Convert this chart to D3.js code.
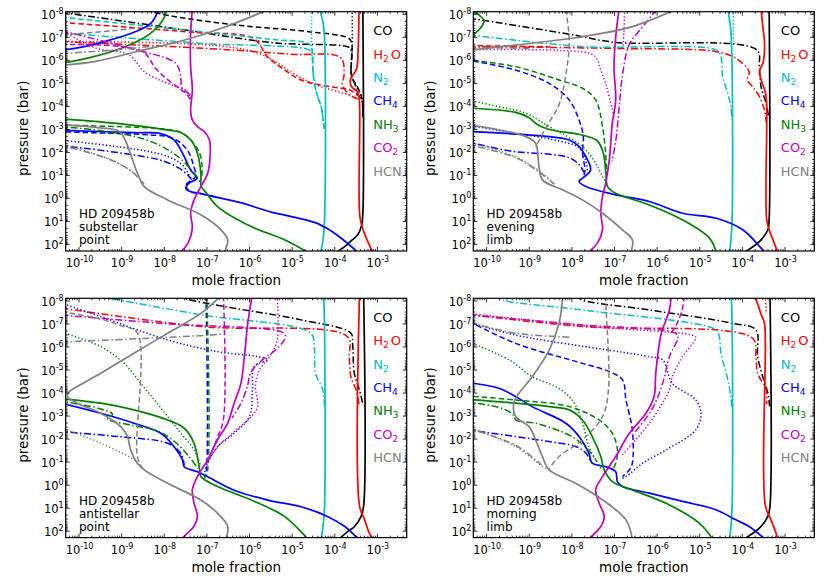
<!DOCTYPE html>
<html>
<head>
<meta charset="utf-8">
<script src="https://cdn.jsdelivr.net/npm/d3@7"></script>
<style>
body { margin: 0; background: #fff; }
text { font-family: "DejaVu Sans", sans-serif; }
</style>
</head>
<body>
<svg id="chart" width="830" height="586"></svg>
<script>
// species, legend labels, colours
var species = ["CO", "H2O", "N2", "CH4", "NH3", "CO2", "HCN"];
var legendLabels = [["CO", ""], ["H", "2", "O"], ["N", "2"], ["CH", "4"], ["NH", "3"], ["CO", "2"], ["HCN", ""]];
var colors = ["#000000", "#ff0000", "#00bfbf", "#0000ff", "#008000", "#bf00bf", "#808080"];

// tick exponents
var xTickExp = [-10, -9, -8, -7, -6, -5, -4, -3];
var yTickExp = [-8, -7, -6, -5, -4, -3, -2, -1, 0, 1, 2];

var panelTitles = [
	["HD 209458b", "substellar", "point"],
	["HD 209458b", "evening", "limb"],
	["HD 209458b", "antistellar", "point"],
	["HD 209458b", "morning", "limb"]
];

// profiles: [line style, [[log10 mole fraction, log10 pressure(bar)], ...]]
// --- substellar point
var subCO = [
	["dashed", [[-8.4,-8.15],[-7.8,-7.9],[-6.2,-7.5],[-4.55,-7.22],[-3.7,-6.98],[-3.6,-6.8],[-3.6,-5.4],[-3.55,-5.1],[-3.45,-4.8],[-3.35,-4.3],[-3.33,-3.5]]],
	["dashdot", [[-10.4,-8.07],[-7.5,-7.3],[-5.4,-6.74],[-3.65,-6.55],[-3.6,-6.4],[-3.6,-5.3],[-3.52,-5.0],[-3.48,-4.6],[-3.35,-4.2],[-3.33,-3.5]]],
	["dotted", [[-3.58,-8.2],[-3.58,-6.5],[-3.6,-5.3],[-3.5,-4.9],[-3.35,-4.3],[-3.33,-3.5]]],
	["solid", [[-3.33,-8.2],[-3.33,0.7],[-3.36,1.2],[-3.45,1.6],[-3.6,1.85],[-3.75,2.1],[-3.95,2.35]]]
];
var subH2O = [
	["dashed", [[-10.4,-7.63],[-7.3,-7.2],[-5.9,-6.94],[-5.57,-6.15],[-5.17,-5.57],[-4.78,-5.13],[-4.0,-4.81],[-3.64,-4.7],[-3.42,-4.4]]],
	["dashdot", [[-10.4,-6.8],[-7.0,-6.5],[-5.0,-6.25],[-3.85,-6.1],[-3.77,-5.36],[-3.81,-4.93],[-3.69,-4.57],[-3.45,-4.3]]],
	["dotted", [[-10.4,-6.81],[-6.63,-6.6],[-5.69,-6.23],[-4.91,-5.36],[-4.44,-4.93],[-3.65,-4.47],[-3.45,-4.3]]],
	["solid", [[-3.42,-8.2],[-3.44,-6.5],[-3.48,-5.6],[-3.62,-5.15],[-3.6,-4.85],[-3.45,-4.6],[-3.41,-4.2],[-3.4,0.8],[-3.32,1.4],[-3.2,1.95],[-3.1,2.35]]]
];
var subN2 = [
	["dashed", [[-10.4,-7.86],[-7.5,-7.3],[-5.5,-6.9],[-4.6,-6.7],[-4.52,-6.45],[-4.5,-5.5],[-4.42,-4.6],[-4.3,-3.9],[-4.24,-3.0]]],
	["dashdot", [[-10.4,-7.17],[-7.1,-6.72],[-4.6,-6.45],[-4.52,-6.3],[-4.5,-5.5],[-4.42,-4.6],[-4.3,-3.9],[-4.24,-3.0]]],
	["dotted", [[-4.53,-8.2],[-4.53,-6.4],[-4.5,-5.5]]],
	["solid", [[-4.35,-8.2],[-4.27,-7.7],[-4.23,-7.0],[-4.23,1.0],[-4.27,1.9],[-4.32,2.35]]]
];
var subCH4 = [
	["dashed", [[-10.5,-2.88],[-8.5,-2.76],[-7.9,-2.66],[-7.62,-2.42],[-7.42,-2.0],[-7.3,-1.4],[-7.25,-0.95],[-7.4,-0.72],[-7.5,-0.5],[-7.42,-0.3],[-7.15,-0.2],[-6.8,-0.05]]],
	["dotted", [[-10.5,-2.53],[-8.04,-1.89],[-7.57,-1.45],[-7.41,-1.02],[-7.35,-0.8]]],
	["dashdot", [[-10.5,-2.3],[-8.12,-1.67],[-7.65,-1.31],[-7.41,-0.95],[-7.35,-0.8]]],
	["solid", [[-8.12,-8.2],[-8.3,-7.6],[-8.7,-7.2],[-9.2,-6.9],[-9.8,-6.6],[-10.5,-6.4]]],
	["solid", [[-10.5,-2.95],[-8.7,-2.84],[-8.07,-2.8],[-7.76,-2.53],[-7.56,-1.95],[-7.37,-1.22],[-7.22,-0.85],[-7.38,-0.68],[-7.47,-0.5],[-7.4,-0.3],[-7.15,-0.2],[-6.8,-0.05],[-6.2,0.2],[-5.5,0.6],[-4.9,0.85],[-4.4,1.1],[-4.1,1.4],[-3.8,1.8],[-3.45,2.35]]]
];
var subNH3 = [
	["dashed", [[-10.5,-3.17],[-8.0,-3.0],[-7.6,-2.85],[-7.33,-2.45],[-7.15,-1.9],[-7.1,-1.3],[-7.12,-0.8]]],
	["dashdot", [[-10.5,-3.12],[-9.37,-2.9],[-8.43,-2.54],[-7.73,-1.89],[-7.26,-1.02],[-7.15,-0.7]]],
	["solid", [[-7.92,-8.2],[-8.04,-7.68],[-8.35,-7.1],[-8.98,-6.52],[-9.76,-6.09],[-10.5,-5.82]]],
	["solid", [[-10.5,-3.45],[-9.0,-3.22],[-7.9,-2.95],[-7.6,-2.85],[-7.37,-2.53],[-7.21,-1.95],[-7.13,-1.08],[-7.12,-0.5],[-7.0,-0.22],[-6.74,0.37],[-5.96,1.23],[-5.17,1.81],[-4.63,2.35]]]
];
var subCO2 = [
	["dashed", [[-10.4,-6.67],[-8.51,-6.38],[-8.2,-5.65],[-7.96,-5.22],[-7.65,-4.78],[-7.45,-4.49],[-7.36,-4.2]]],
	["dashdot", [[-10.4,-7.27],[-8.82,-6.52],[-7.73,-5.87],[-7.61,-5.36],[-7.57,-4.78],[-7.4,-4.5],[-7.36,-4.2]]],
	["dotted", [[-10.4,-7.3],[-9.6,-6.52],[-8.82,-6.23],[-8.47,-5.51],[-8.12,-5.15],[-7.73,-4.86],[-7.5,-4.71],[-7.37,-4.4]]],
	["solid", [[-7.33,-8.2],[-7.37,-7.16],[-7.37,-5.7],[-7.33,-4.69],[-7.37,-3.82],[-7.33,-3.39],[-7.21,-3.1],[-7.05,-2.89],[-6.93,-2.53],[-6.91,-1.95],[-6.97,-1.08],[-7.13,-0.5],[-7.29,0.08],[-7.37,0.66],[-7.33,1.24],[-7.37,1.67],[-7.48,2.1],[-7.62,2.35]]]
];
var subHCN = [
	["dashed", [[-10.4,-7.09],[-9.2,-7.27],[-8.6,-7.4]]],
	["dashdot", [[-10.4,-6.28],[-9.4,-6.4],[-8.5,-6.55],[-8.2,-6.62]]],
	["dotted", [[-10.5,-2.42],[-9.24,-1.66],[-8.7,-1.08],[-8.46,-0.6]]],
	["dashdot", [[-10.5,-2.32],[-9.3,-1.7],[-8.75,-1.15],[-8.46,-0.6]]],
	["solid", [[-5.53,-8.2],[-6.63,-7.39],[-7.49,-6.88],[-8.59,-6.38],[-9.6,-5.94],[-10.5,-5.75]]],
	["solid", [[-10.5,-3.2],[-9.5,-3.05],[-9.05,-2.9],[-8.9,-2.5],[-8.75,-1.75],[-8.6,-1.0],[-8.46,-0.5],[-7.91,0.08],[-7.13,0.73],[-6.66,1.38],[-6.5,1.81],[-6.58,2.35]]]
];

// --- evening limb
var eveCO = [
	["dashdot", [[-10.4,-7.82],[-8.05,-7.12],[-7.0,-6.77],[-3.65,-6.44],[-3.59,-5.71],[-3.55,-4.84],[-3.43,-4.1],[-3.37,-3.5]]],
	["solid", [[-3.36,-8.2],[-3.36,0.9],[-3.39,1.38],[-3.59,1.89],[-3.94,2.35]]]
];
var eveH2O = [
	["dashed", [[-10.4,-6.62],[-9.5,-6.6],[-8.5,-6.57]]],
	["dashdot", [[-10.4,-6.58],[-6.96,-6.5],[-4.6,-6.36],[-4.14,-6.07],[-3.83,-5.49],[-3.87,-5.13],[-3.75,-4.84],[-3.59,-4.41],[-3.47,-3.83],[-3.43,-3.3]]],
	["solid", [[-3.55,-8.2],[-3.5,-7.3],[-3.47,-6.81],[-3.5,-5.9],[-3.59,-5.5],[-3.55,-5.15],[-3.45,-4.6],[-3.42,-4.2],[-3.42,0.9],[-3.36,1.38],[-3.24,1.96],[-3.16,2.35]]]
];
var eveN2 = [
	["dashdot", [[-10.4,-7.09],[-7.74,-6.58],[-4.6,-6.43],[-4.49,-6.14],[-4.45,-5.27],[-4.33,-4.55],[-4.26,-3.97],[-4.23,-3.3]]],
	["dotted", [[-4.2,-8.2],[-4.2,-6.8]]],
	["solid", [[-4.33,-8.2],[-4.26,-7.3],[-4.23,-5.7],[-4.23,1.0],[-4.26,1.9],[-4.29,2.35]]]
];
var eveCH4 = [
	["dashed", [[-10.5,-6.02],[-9.31,-5.56],[-8.52,-4.98],[-8.05,-4.26],[-7.82,-3.39],[-7.72,-2.67],[-7.74,-1.95],[-7.68,-1.22],[-7.72,-0.9]]],
	["dotted", [[-10.5,-3.19],[-9.38,-2.83],[-8.44,-2.54],[-7.82,-2.18],[-7.66,-1.6],[-7.62,-1.1]]],
	["dashdot", [[-10.5,-2.47],[-9.38,-2.03],[-8.44,-1.89],[-8.05,-1.75],[-7.82,-1.46],[-7.7,-1.1]]],
	["solid", [[-10.5,-2.9],[-8.52,-2.67],[-8.05,-2.52],[-7.82,-2.24],[-7.66,-1.8],[-7.55,-1.22],[-7.74,-0.86],[-7.82,-0.72],[-7.66,-0.5],[-6.96,-0.14],[-6.17,0.15],[-5.39,0.66],[-4.6,0.88],[-3.98,1.38],[-3.51,2.25],[-3.45,2.35]]]
];
var eveNH3 = [
	["dashed", [[-10.5,-6.02],[-9.31,-5.71],[-8.29,-5.13],[-7.74,-4.77],[-7.43,-4.26],[-7.27,-3.1],[-7.19,-1.8],[-7.17,-1.0]]],
	["dotted", [[-10.5,-4.28],[-9.7,-3.97],[-9.07,-3.68],[-8.52,-3.1],[-7.74,-2.24],[-7.43,-1.51],[-7.27,-0.94],[-7.17,-0.6]]],
	["solid", [[-10.5,-8.3],[-10.2,-8.0],[-10.05,-7.7],[-10.2,-7.25],[-10.5,-6.9]]],
	["solid", [[-10.5,-3.92],[-9.31,-3.72],[-9.0,-3.5],[-8.8,-3.2],[-8.52,-2.98],[-7.8,-2.76],[-7.4,-2.5],[-7.25,-1.95],[-7.19,-1.08],[-7.15,-0.5],[-6.96,-0.21],[-6.17,0.3],[-5.39,0.95],[-4.76,1.74],[-4.6,2.35]]]
];
var eveCO2 = [
	["dotted", [[-10.4,-6.45],[-7.6,-6.3],[-7.42,-6.1],[-7.3,-5.5],[-7.2,-5.0],[-7.1,-4.3],[-7.0,-3.5]]],
	["dotted", [[-6.75,-8.2],[-6.78,-6.8],[-6.8,-6.5]]],
	["dashdot", [[-6.0,-8.2],[-6.3,-7.5],[-6.64,-6.67],[-6.8,-5.36],[-6.88,-3.92],[-6.96,-2.47],[-7.05,-1.6]]],
	["solid", [[-6.88,-8.2],[-6.95,-7.2],[-7.0,-5.71],[-6.96,-4.26],[-7.04,-3.25],[-7.11,-1.66],[-7.2,-0.6],[-7.27,-0.07],[-7.31,0.66],[-7.27,1.38],[-7.39,1.96],[-7.6,2.35]]]
];
var eveHCN = [
	["dashed", [[-8.13,-8.2],[-8.05,-6.81],[-8.13,-5.36],[-8.29,-4.06],[-8.6,-3.05],[-8.84,-2.2]]],
	["dashdot", [[-10.4,-6.55],[-9.0,-6.5]]],
	["dotted", [[-10.5,-2.45],[-9.31,-1.8],[-8.68,-1.08],[-8.4,-0.6]]],
	["dashdot", [[-10.5,-2.35],[-9.3,-1.75],[-8.7,-1.05],[-8.4,-0.6]]],
	["solid", [[-5.55,-8.2],[-6.57,-7.45],[-7.74,-7.01],[-9.31,-6.65],[-10.5,-6.4]]],
	["solid", [[-10.5,-3.22],[-9.07,-2.67],[-8.84,-2.38],[-8.76,-1.37],[-8.68,-0.79],[-8.21,-0.36],[-7.74,0.08],[-7.27,0.66],[-6.8,1.38],[-6.57,1.81],[-6.6,2.35]]]
];

// --- antistellar point
var antCO = [
	["dashdot", [[-7.7,-8.2],[-7.44,-8.05],[-6.58,-7.74],[-4.78,-7.16],[-3.61,-6.58],[-3.57,-6.14],[-3.53,-4.84],[-3.41,-4.12],[-3.33,-3.5]]],
	["solid", [[-3.31,-8.2],[-3.31,0.9],[-3.37,1.38],[-3.53,1.83],[-3.68,2.03],[-3.88,2.35]]]
];
var antH2O = [
	["dashdot", [[-10.4,-7.67],[-7.13,-6.87],[-3.69,-6.43],[-3.65,-5.56],[-3.61,-4.69],[-3.49,-4.12],[-3.42,-3.5]]],
	["solid", [[-3.41,-8.2],[-3.41,0.9],[-3.29,1.52],[-3.18,2.1],[-3.1,2.35]]]
];
var antN2 = [
	["dashdot", [[-9.5,-8.15],[-9.09,-8.03],[-7.13,-7.38],[-4.55,-6.58],[-4.47,-6.0],[-4.44,-4.84],[-4.27,-4.12],[-4.23,-3.4]]],
	["solid", [[-4.25,-8.2],[-4.23,-7.0],[-4.23,1.0],[-4.27,1.9],[-4.31,2.35]]]
];
var antCH4 = [
	["dashed", [[-7.01,-8.2],[-7.01,-0.5],[-7.05,-0.35]]],
	["dashdot", [[-10.5,-2.32],[-9.09,-2.09],[-7.91,-1.8],[-7.6,-1.36],[-7.52,-0.85]]],
	["dotted", [[-10.5,-7.95],[-9.48,-7.3],[-7.91,-6.29],[-6.74,-5.78],[-5.8,-5.56],[-5.56,-5.42],[-5.88,-5.13],[-5.92,-4.12],[-5.99,-2.96],[-6.35,-2.23],[-6.74,-1.65],[-6.97,-0.93],[-7.05,-0.5]]],
	["solid", [[-10.5,-3.58],[-9.48,-3.1],[-8.7,-2.67],[-8.07,-2.23],[-7.76,-1.65],[-7.56,-1.07],[-7.52,-0.78],[-7.21,-0.56],[-6.97,-0.34],[-6.35,0.24],[-5.56,0.67],[-4.78,0.96],[-4.16,1.38],[-3.76,1.81],[-3.49,2.25],[-3.42,2.35]]]
];
var antNH3 = [
	["dashed", [[-6.99,-8.2],[-6.99,-0.43],[-7.05,-0.3]]],
	["dotted", [[-10.4,-6.62],[-9.48,-6.0],[-8.93,-5.27],[-8.54,-4.4],[-8.22,-3.68],[-7.91,-2.96],[-7.6,-2.23],[-7.29,-1.51],[-7.13,-0.79]]],
	["dashdot", [[-10.5,-3.65],[-9.5,-3.3],[-9.2,-3.05],[-9.32,-2.85],[-8.8,-2.6],[-8.1,-2.3],[-7.7,-1.8],[-7.4,-1.2],[-7.2,-0.7]]],
	["solid", [[-10.5,-3.75],[-9.48,-3.54],[-8.7,-3.25],[-7.91,-2.81],[-7.52,-2.45],[-7.29,-1.8],[-7.17,-0.78],[-7.13,-0.35],[-6.74,0.08],[-5.96,0.66],[-5.17,1.38],[-4.63,2.35]]]
];
var antCO2 = [
	["dashed", [[-6.6,-8.2],[-6.6,-2.85],[-6.75,-2.0],[-6.95,-1.1]]],
	["dashdot", [[-10.4,-7.37],[-8.0,-7.0],[-5.2,-6.6],[-5.15,-6.4],[-5.35,-5.9],[-5.7,-5.4],[-5.95,-4.9],[-6.05,-4.2],[-6.2,-3.5],[-6.4,-2.9]]],
	["dotted", [[-5.34,-8.2],[-5.34,-6.29],[-5.5,-5.6],[-5.75,-5.0],[-5.85,-4.3],[-5.8,-3.4],[-5.95,-2.95],[-6.35,-2.3],[-6.75,-1.6],[-7.0,-0.9]]],
	["solid", [[-5.93,-8.2],[-6.03,-7.01],[-6.11,-5.56],[-6.19,-4.4],[-6.35,-3.54],[-6.5,-2.67],[-6.74,-1.95],[-6.97,-1.08],[-7.21,-0.35],[-7.33,0.22],[-7.29,0.8],[-7.21,1.38],[-7.29,1.81],[-7.44,2.1],[-7.58,2.35]]]
];
var antHCN = [
	["dashed", [[-10.4,-7.52],[-9.5,-7.2],[-9.0,-6.9],[-8.62,-6.6],[-8.62,-1.22],[-8.5,-0.7]]],
	["dashdot", [[-10.4,-6.2],[-8.5,-6.35],[-6.9,-6.5],[-6.6,-6.55]]],
	["dotted", [[-10.5,-2.55],[-9.48,-1.8],[-8.7,-1.08],[-8.46,-0.64]]],
	["solid", [[-6.66,-8.2],[-7.13,-7.44],[-7.91,-6.58],[-8.7,-5.71],[-9.48,-4.84],[-10.03,-4.26],[-10.22,-4.04],[-10.26,-3.83],[-10.03,-3.54],[-9.48,-3.1],[-9.01,-2.52],[-8.85,-2.09],[-8.78,-1.51],[-8.62,-0.93],[-8.46,-0.64],[-7.91,-0.06],[-7.13,0.67],[-6.74,1.24],[-6.5,1.82],[-6.54,2.35]]]
];

// --- morning limb
var mornCO = [
	["dashdot", [[-7.9,-8.2],[-7.74,-8.02],[-6.17,-7.59],[-4.22,-7.01],[-3.67,-6.72],[-3.63,-5.56],[-3.51,-4.69],[-3.39,-3.97],[-3.35,-3.4]]],
	["solid", [[-3.34,-8.2],[-3.34,0.9],[-3.39,1.38],[-3.59,1.89],[-3.94,2.35]]]
];
var mornH2O = [
	["dashdot", [[-10.4,-7.38],[-7.74,-6.87],[-3.75,-6.36],[-3.67,-5.56],[-3.63,-4.84],[-3.43,-4.12],[-3.42,-3.5]]],
	["dotted", [[-3.45,-8.2],[-3.43,-7.5]]],
	["solid", [[-3.7,-8.2],[-3.62,-7.8],[-3.55,-7.4],[-3.47,-7.01],[-3.45,-6.0],[-3.45,0.9],[-3.32,1.52],[-3.2,2.1],[-3.16,2.35]]]
];
var mornN2 = [
	["dashdot", [[-9.8,-8.2],[-9.62,-8.02],[-7.74,-7.59],[-4.6,-6.72],[-4.53,-6.43],[-4.49,-5.71],[-4.33,-4.55],[-4.26,-3.83],[-4.23,-3.3]]],
	["solid", [[-4.25,-8.2],[-4.23,-7.0],[-4.23,1.0],[-4.26,1.9],[-4.29,2.35]]]
];
var mornCH4 = [
	["dashed", [[-10.4,-7.1],[-9.31,-6.14],[-7.74,-5.27],[-7.11,-4.91],[-6.8,-4.55],[-6.72,-3.68],[-6.57,-2.38],[-6.57,-0.93],[-6.64,-0.64],[-6.8,-0.35]]],
	["dotted", [[-10.4,-7.05],[-9.31,-6.5],[-6.17,-5.56],[-5.86,-5.42],[-5.63,-4.4],[-5.08,-3.68],[-4.96,-3.1],[-5.08,-2.38],[-5.78,-1.51],[-6.33,-0.93],[-6.72,-0.35],[-6.85,-0.25]]],
	["dashdot", [[-10.5,-2.4],[-9.31,-2.09],[-8.52,-1.87],[-7.9,-1.66],[-7.66,-1.37],[-7.55,-1.0]]],
	["solid", [[-10.5,-4.45],[-9.7,-4.19],[-9.31,-3.83],[-8.92,-3.39],[-8.13,-2.67],[-7.82,-2.09],[-7.59,-1.37],[-7.51,-0.93],[-7.19,-0.78],[-6.96,-0.56],[-6.92,-0.13],[-6.8,0.08],[-6.17,0.37],[-5.39,0.73],[-4.61,1.09],[-4.14,1.53],[-3.83,1.82],[-3.47,2.35]]]
];
var mornNH3 = [
	["dashed", [[-10.5,-3.86],[-9.31,-3.68],[-8.05,-3.39],[-7.35,-2.81],[-7.04,-2.23],[-6.92,-1.51],[-6.96,-0.93],[-7.05,-0.6]]],
	["dotted", [[-10.4,-6.2],[-9.46,-5.42],[-8.92,-4.69],[-8.37,-4.26],[-7.98,-3.68],[-7.74,-2.67],[-7.59,-1.66],[-7.43,-1.08],[-7.3,-0.7]]],
	["dashdot", [[-10.5,-3.6],[-9.6,-3.3],[-9.35,-3.0],[-9.3,-2.8],[-8.8,-2.65],[-8.0,-2.1],[-7.6,-1.5],[-7.4,-1.0]]],
	["solid", [[-10.5,-3.72],[-9.31,-3.54],[-8.52,-3.39],[-8.05,-3.25],[-7.74,-2.81],[-7.51,-2.09],[-7.31,-1.22],[-7.23,-0.64],[-7.04,-0.13],[-6.57,0.23],[-5.78,0.81],[-5.0,1.67],[-4.69,2.35]]]
];
var mornCO2 = [
	["dashed", [[-5.35,-8.2],[-5.4,-7.6],[-5.55,-6.9],[-5.7,-6.5]]],
	["dashdot", [[-10.4,-7.38],[-7.74,-6.94],[-5.55,-6.58],[-5.5,-6.4],[-5.7,-5.56],[-5.86,-4.4],[-6.1,-3.3],[-6.5,-2.3]]],
	["dotted", [[-10.4,-7.44],[-7.74,-6.9],[-5.1,-6.45],[-5.08,-6.36],[-5.39,-5.56],[-5.63,-4.69],[-5.7,-4.12],[-5.86,-3.54],[-6.17,-2.67],[-6.49,-1.95],[-6.8,-1.3]]],
	["solid", [[-5.66,-8.2],[-5.7,-7.59],[-5.9,-6.5],[-6.02,-4.84],[-6.06,-3.83],[-6.25,-3.1],[-6.64,-2.23],[-6.96,-1.22],[-7.27,-0.35],[-7.43,0.22],[-7.35,0.8],[-7.23,1.38],[-7.31,1.82],[-7.59,2.35]]]
];
var mornHCN = [
	["dashed", [[-7.19,-8.2],[-7.19,-7.88],[-7.13,-4.12],[-7.27,-2.96],[-7.74,-1.95],[-8.29,-1.22],[-8.52,-0.7]]],
	["dashdot", [[-10.4,-7.05],[-9.31,-6.58],[-8.29,-6.43],[-8.0,-6.4]]],
	["dotted", [[-10.5,-2.55],[-9.31,-1.66],[-8.68,-0.79],[-8.52,-0.64]]],
	["dashdot", [[-10.5,-2.5],[-9.3,-1.7],[-8.7,-0.85]]],
	["solid", [[-8.2,-8.2],[-8.29,-7.01],[-8.52,-5.85],[-8.92,-4.69],[-9.23,-3.97],[-9.35,-3.54],[-9.31,-2.96],[-8.99,-2.52],[-8.84,-1.95],[-8.68,-1.22],[-8.52,-0.64],[-7.9,-0.06],[-7.27,0.66],[-6.72,1.53],[-6.57,2.35]]]
];

var panelProfiles = [
	[subCO, subH2O, subN2, subCH4, subNH3, subCO2, subHCN],
	[eveCO, eveH2O, eveN2, eveCH4, eveNH3, eveCO2, eveHCN],
	[antCO, antH2O, antN2, antCH4, antNH3, antCO2, antHCN],
	[mornCO, mornH2O, mornN2, mornCH4, mornNH3, mornCO2, mornHCN]
];

// layout
var W = 341, H = 239.3;
var panelPos = [[65.7, 11.7], [473.3, 11.7], [65.7, 298.3], [473.3, 298.3]];
var dashes = {solid: null, dashed: "5.5,3", dotted: "1.3,2.2", dashdot: "7,2.5,1.5,2.5"};

var svg = d3.select("#chart");

var x = d3.scaleLog().domain([5e-11, 5e-3]).range([0, W]);
var y = d3.scaleLog().domain([8e-9, 200]).range([0, H]);

var majorX = xTickExp.map(e => Math.pow(10, e));
var majorY = yTickExp.map(e => Math.pow(10, e));
var minorX = [], minorY = [];
for (var e = -11; e <= -3; e++) for (var k = 2; k <= 9; k++) {
	var v = k * Math.pow(10, e);
	if (v > 5e-11 && v < 5e-3) minorX.push(v);
}
for (var e = -9; e <= 2; e++) for (var k = 2; k <= 9; k++) {
	var v = k * Math.pow(10, e);
	if (v > 8e-9 && v < 200) minorY.push(v);
}

var line = d3.line()
	.x(d => x(Math.pow(10, d[0])))
	.y(d => y(Math.pow(10, d[1])))
	.curve(d3.curveCatmullRom.alpha(0.5));

function addPow(sel, exp) {
	sel.append("tspan").text("10");
	sel.append("tspan").attr("dy", -5).attr("font-size", 8).text(exp);
}

panelPos.forEach(function(pos, p) {
	var g = svg.append("g").attr("transform", "translate(" + pos[0] + "," + pos[1] + ")");

	g.append("clipPath").attr("id", "clip" + p)
		.append("rect").attr("width", W).attr("height", H);

	// profiles
	var lines = g.append("g").attr("clip-path", "url(#clip" + p + ")");
	panelProfiles[p].forEach(function(profs, s) {
		profs.forEach(function(pr) {
			lines.append("path")
				.attr("d", line(pr[1]))
				.attr("fill", "none")
				.attr("stroke", colors[s])
				.attr("stroke-width", pr[0] == "solid" ? 1.7 : 1.5)
				.attr("stroke-dasharray", dashes[pr[0]]);
		});
	});

	// ticks inside, on all four sides
	function ticks(axis, vals, len, tr) {
		var a = g.append("g").attr("transform", tr)
			.call(axis.tickValues(vals).tickSizeInner(-len).tickSizeOuter(0).tickFormat(""));
		a.select(".domain").remove();
		a.selectAll("line").attr("stroke", "#000").attr("stroke-width", 0.8);
	}
	ticks(d3.axisBottom(x), majorX, 4, "translate(0," + H + ")");
	ticks(d3.axisBottom(x), minorX, 2, "translate(0," + H + ")");
	ticks(d3.axisTop(x), majorX, 4, "translate(0,0)");
	ticks(d3.axisTop(x), minorX, 2, "translate(0,0)");
	ticks(d3.axisLeft(y), majorY, 4, "translate(0,0)");
	ticks(d3.axisLeft(y), minorY, 2, "translate(0,0)");
	ticks(d3.axisRight(y), majorY, 4, "translate(" + W + ",0)");
	ticks(d3.axisRight(y), minorY, 2, "translate(" + W + ",0)");

	g.append("rect").attr("width", W).attr("height", H)
		.attr("fill", "none").attr("stroke", "#000").attr("stroke-width", 1.2);

	// tick labels
	xTickExp.forEach(function(e) {
		var t = g.append("text")
			.attr("x", x(Math.pow(10, e)) + 1)
			.attr("y", H + 16)
			.attr("text-anchor", "middle")
			.attr("font-size", 11.5);
		addPow(t, e);
	});
	yTickExp.forEach(function(e) {
		var t = g.append("text")
			.attr("x", -2)
			.attr("y", y(Math.pow(10, e)) + 5)
			.attr("text-anchor", "end")
			.attr("font-size", 11.5);
		addPow(t, e);
	});

	// axis titles
	g.append("text")
		.attr("x", W / 2).attr("y", H + 34)
		.attr("text-anchor", "middle")
		.attr("font-size", 13.5)
		.text("mole fraction");
	g.append("text")
		.attr("transform", "translate(-38," + (H / 2 - 3) + ") rotate(-90)")
		.attr("text-anchor", "middle")
		.attr("font-size", 13.5)
		.text("pressure (bar)");

	// legend
	species.forEach(function(sp, i) {
		var t = g.append("text")
			.attr("x", 307.5)
			.attr("y", 23.6 + i * 23.4)
			.attr("font-size", 13)
			.attr("fill", colors[i]);
		var lab = legendLabels[i];
		t.append("tspan").text(lab[0]);
		if (lab[1]) t.append("tspan").attr("dy", 3).attr("font-size", 9).text(lab[1]);
		if (lab[2]) t.append("tspan").attr("dy", -3).attr("dx", 2).text(lab[2]);
	});

	// panel annotation
	panelTitles[p].forEach(function(s, i) {
		g.append("text")
			.attr("x", 13.3)
			.attr("y", 206.8 + i * 13)
			.attr("font-size", 12)
			.text(s);
	});
});
</script>
</body>
</html>
